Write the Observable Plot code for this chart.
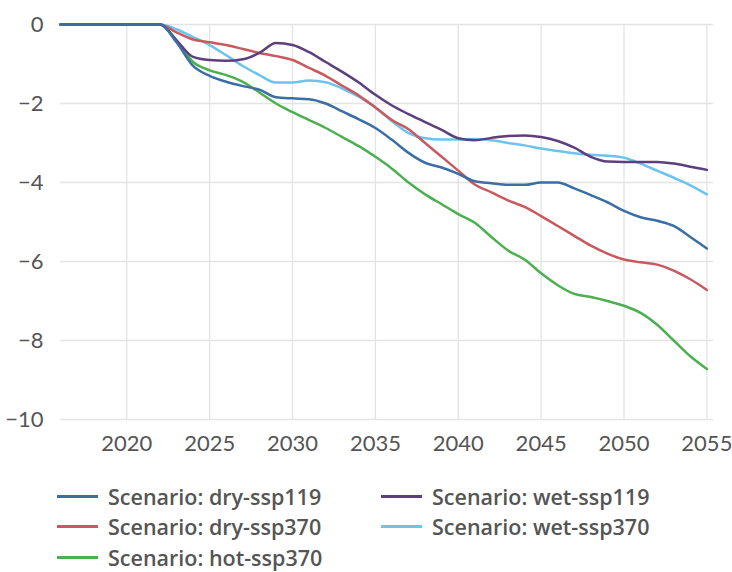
<!DOCTYPE html>
<html>
<head>
<meta charset="utf-8">
<script src="https://cdn.jsdelivr.net/npm/d3@7"></script>
<script src="https://cdn.jsdelivr.net/npm/@observablehq/plot@0.6"></script>
<style>
  body { margin: 0; background: #fff; font-family: Lato, "Open Sans", sans-serif; overflow: hidden; }
  #chart { width: 732px; }
  .legend { display: grid; grid-template-columns: 324px auto; row-gap: 0; padding-left: 57px; margin-top: 22px; }
  .item { display: flex; align-items: center; height: 30.5px; font-family: "Open Sans", Lato, sans-serif; font-size: 21.5px; font-weight: 600; color: #555; white-space: nowrap; }
  .item span.t { line-height: 1; }
  .sw { width: 41px; height: 3px; margin-right: 10px; flex: none; }
</style>
</head>
<body>
<div id="chart"></div>
<script>
const years = d3.range(2016, 2056);
const pre = [0, 0, 0, 0, 0, 0]; // 2016-2021
const drySsp119 = [...pre, 0, -0.45, -1.05, -1.30, -1.45, -1.56, -1.65, -1.84, -1.87, -1.89, -2.0, -2.2, -2.4, -2.62, -2.92, -3.25, -3.5, -3.62, -3.78, -3.97, -4.02, -4.06, -4.06, -4.0, -4.0, -4.15, -4.32, -4.5, -4.72, -4.88, -4.97, -5.1, -5.38, -5.67];
const wetSsp119 = [...pre, 0, -0.4, -0.82, -0.9, -0.92, -0.88, -0.72, -0.47, -0.52, -0.7, -0.95, -1.2, -1.47, -1.78, -2.05, -2.27, -2.47, -2.67, -2.88, -2.93, -2.87, -2.82, -2.81, -2.85, -2.95, -3.12, -3.35, -3.47, -3.48, -3.48, -3.48, -3.52, -3.6, -3.68];
const drySsp370 = [...pre, 0, -0.2, -0.38, -0.45, -0.52, -0.62, -0.72, -0.8, -0.9, -1.1, -1.3, -1.55, -1.8, -2.1, -2.42, -2.65, -3.0, -3.35, -3.7, -4.05, -4.25, -4.45, -4.62, -4.85, -5.1, -5.35, -5.6, -5.8, -5.95, -6.02, -6.08, -6.23, -6.45, -6.72];
const wetSsp370 = [...pre, 0, -0.12, -0.32, -0.52, -0.78, -1.05, -1.28, -1.47, -1.47, -1.42, -1.46, -1.62, -1.83, -2.1, -2.45, -2.75, -2.88, -2.91, -2.91, -2.9, -2.93, -3.0, -3.06, -3.14, -3.2, -3.26, -3.3, -3.32, -3.37, -3.52, -3.7, -3.88, -4.07, -4.3];
const hotSsp370 = [...pre, 0, -0.4, -0.95, -1.16, -1.28, -1.45, -1.72, -2.0, -2.22, -2.42, -2.62, -2.85, -3.08, -3.35, -3.65, -4.0, -4.3, -4.55, -4.8, -5.02, -5.38, -5.72, -5.95, -6.3, -6.6, -6.82, -6.9, -7.0, -7.12, -7.3, -7.6, -8.0, -8.4, -8.72];

const seriesNames = ["Scenario: dry-ssp119", "Scenario: wet-ssp119", "Scenario: dry-ssp370", "Scenario: wet-ssp370", "Scenario: hot-ssp370"];
const seriesValues = [drySsp119, wetSsp119, drySsp370, wetSsp370, hotSsp370];
const seriesColors = ["#3a6ea5", "#5e3f7d", "#c8595f", "#6cc3ef", "#4caf50"];
const xTicks = [2020, 2025, 2030, 2035, 2040, 2045, 2050, 2055];
const yTicks = [0, -2, -4, -6, -8, -10];

const drawOrder = [4, 3, 2, 1, 0];
const rows = [];
for (const i of drawOrder) {
  years.forEach((y, j) => rows.push({year: y, value: seriesValues[i][j], series: seriesNames[i]}));
}

const plot = Plot.plot({
  width: 732,
  height: 459,
  marginLeft: 60,
  marginRight: 19,
  marginTop: 24,
  marginBottom: 40,
  style: {fontFamily: "Lato, 'Open Sans', sans-serif", fontSize: "22px", color: "#555", background: "#fff"},
  x: {domain: [2016, 2055.4], ticks: xTicks, tickFormat: "d", tickSize: 0, tickPadding: 16, label: null},
  y: {domain: [-10, 0], ticks: yTicks, tickSize: 0, tickPadding: 17, label: null},
  color: {domain: seriesNames, range: seriesColors},
  marks: [
    Plot.gridX(xTicks, {stroke: "#e4e4e4", strokeOpacity: 1, strokeWidth: 1.3}),
    Plot.gridY(yTicks, {stroke: "#e4e4e4", strokeOpacity: 1, strokeWidth: 1.3}),
    Plot.axisX({ticks: xTicks, tickFormat: "d", tickSize: 0, tickPadding: 16, label: null}),
    Plot.axisY({ticks: yTicks, tickSize: 0, tickPadding: 17, label: null}),
    Plot.line(rows, {x: "year", y: "value", z: "series", stroke: "series", strokeWidth: 2.5, curve: "monotone-x"})
  ]
});
document.getElementById("chart").appendChild(plot);

const legend = document.createElement("div");
legend.className = "legend";
const legendOrder = [0, 1, 2, 3, 4];
for (const i of legendOrder) {
  const it = document.createElement("div");
  it.className = "item";
  const sw = document.createElement("span");
  sw.className = "sw";
  sw.style.background = seriesColors[i];
  it.appendChild(sw);
  const t = document.createElement("span");
  t.className = "t";
  t.textContent = seriesNames[i];
  it.appendChild(t);
  legend.appendChild(it);
}
document.getElementById("chart").appendChild(legend);
</script>
</body>
</html>
